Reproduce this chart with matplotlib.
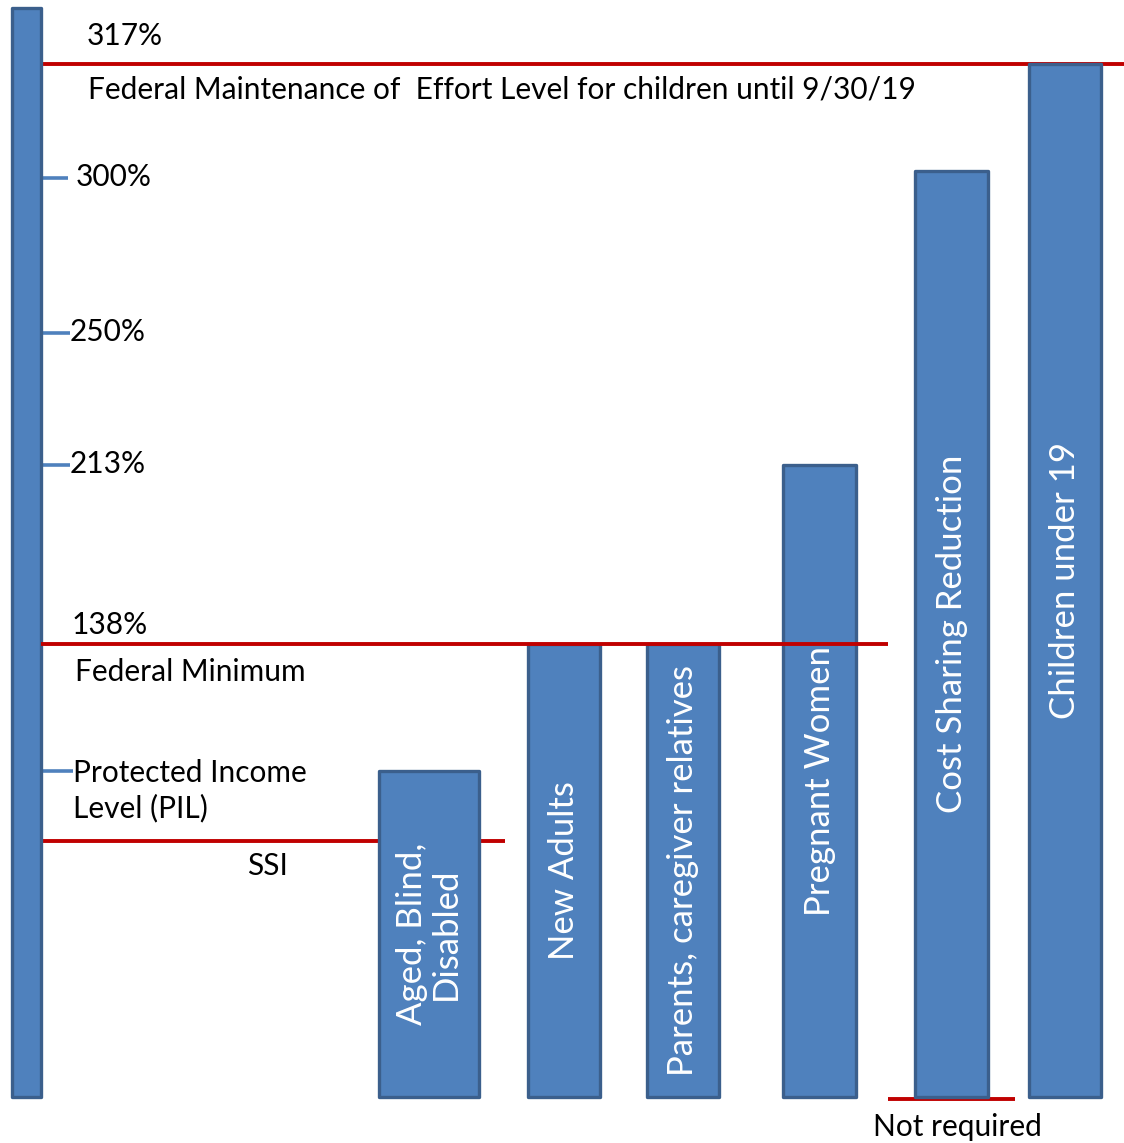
"""Medicaid eligibility levels as a percent of the federal poverty level."""

import matplotlib.pyplot as plt
import numpy as np

# Eligibility groups and their upper income limits (% of FPL)
groups = [
    "Aged, Blind,\nDisabled",
    "New Adults",
    "Parents, caregiver relatives",
    "Pregnant Women",
    "Cost Sharing Reduction",
    "Children under 19",
]
limits = [100, 138, 138, 213, 301, 317]

# Reference levels (% of FPL)
ssi_level = 74
pil_level = 100
federal_min = 138
moe_level = 317
axis_top = 337
tick_levels = [300, 250, 213, pil_level]
tick_labels = ["300%", "250%", "213%"]

# The original diagram is not drawn to a linear scale: piecewise mapping
scale_pct = np.array([-20, 0, 74, 100, 138, 213, 250, 300, 317, 340])
scale_px = np.array([-69.2, 0, 256, 326, 453, 632, 764, 919, 1033, 1097])


def forward(v):
    return np.interp(v, scale_pct, scale_px)


def inverse(v):
    return np.interp(v, scale_px, scale_pct)


plt.rcParams["font.family"] = ["Lato", "DejaVu Sans"]

BLUE = "#4F81BD"
EDGE = "#3B5F8C"
RED = "#C00000"

fig = plt.figure(figsize=(11.24, 11.43), dpi=100)
ax = fig.add_axes([0, 0, 1, 1])
ax.set_yscale("function", functions=(forward, inverse))
ax.set_xlim(0, 1124)
ax.set_ylim(inverse(-46), 340)
ax.axis("off")

# Left "axis" bar
left = ax.bar(26.5, axis_top, width=29, color=BLUE, edgecolor=EDGE,
              linewidth=2.4, zorder=3)

# Group bars
x_pos = [429, 564, 683, 819.5, 951.5, 1065]
widths = [100, 72, 72, 73, 73, 72]
bars = ax.bar(x_pos, limits, width=widths, color=BLUE, edgecolor=EDGE,
              linewidth=2.4, zorder=3)
for p in list(bars) + list(left):
    p.set_joinstyle("round")
ax.bar_label(bars, labels=groups, label_type="center", rotation=90,
             color="white", fontsize=25, multialignment="center",
             linespacing=1.05)

# Red reference lines
ax.hlines(moe_level, 41, 1124, color=RED, linewidth=2.8, zorder=2)
ax.hlines(federal_min, 41, 888, color=RED, linewidth=2.8, zorder=4)
ax.hlines(ssi_level, 41, 505, color=RED, linewidth=2.8, zorder=2)
ax.hlines(-0.7, 888, 1015, color=RED, linewidth=2.8, zorder=2)

# Small blue ticks on the left bar
tick_ends = [68, 70, 70, 73]
for lvl, x1 in zip(tick_levels, tick_ends):
    ax.hlines(lvl, 41, x1, color=BLUE, linewidth=2.6, zorder=2)

fs = 21.5
kw = dict(textcoords="offset pixels", fontsize=fs, va="center", ha="left")
ax.annotate("317%", (87, moe_level), xytext=(0, 28), **kw)
ax.annotate("Federal Maintenance of  Effort Level for children until 9/30/19",
            (88, moe_level), xytext=(0, -26), **kw)
for lvl, lab, x0 in zip(tick_levels[:3], tick_labels, [76, 70, 70]):
    ax.annotate(lab, (x0, lvl), xytext=(0, 1), **kw)
ax.annotate("138%", (72, federal_min), xytext=(0, 19), **kw)
ax.annotate("Federal Minimum", (75, federal_min), xytext=(0, -28), **kw)
ax.annotate("Protected Income\nLevel (PIL)", (73, pil_level), xytext=(0, -20),
            linespacing=1.3, **kw)
ax.annotate("SSI", (247, ssi_level), xytext=(0, -25), **kw)
ax.annotate("Not required", (873, 0), xytext=(0, -30), **kw)

fig.savefig("out.png", dpi=100)
